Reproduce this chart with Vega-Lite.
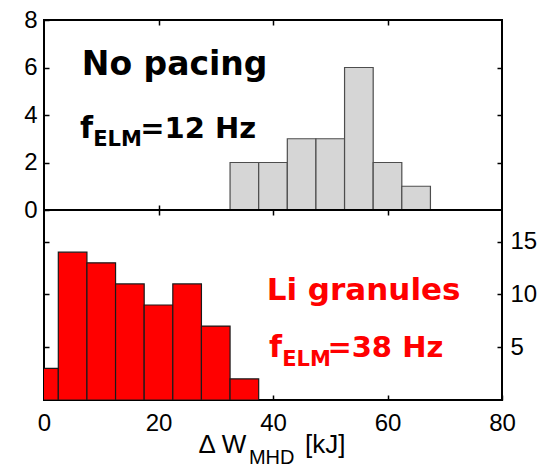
{
  "$schema": "https://vega.github.io/schema/vega-lite/v6.json",
  "background": "white",
  "padding": {"left": 22, "top": 7, "right": 0, "bottom": 0},
  "bounds": "flush",
  "spacing": 0,
  "config": {
    "view": {"stroke": "black", "strokeWidth": 2},
    "axis": {
      "grid": false,
      "domain": false,
      "tickColor": "black",
      "tickWidth": 1.5,
      "tickSize": -5,
      "labelFont": "Liberation Sans",
      "labelFontSize": 24,
      "labelColor": "black",
      "labelFlush": false,
      "labelOverlap": false
    },
    "text": {"font": "DejaVu Sans", "fontWeight": "bold", "align": "left", "baseline": "alphabetic"}
  },
  "datasets": {
    "no_pacing": [
      {"lo": 32.5, "hi": 37.5, "count": 2},
      {"lo": 37.5, "hi": 42.5, "count": 2},
      {"lo": 42.5, "hi": 47.5, "count": 3},
      {"lo": 47.5, "hi": 52.5, "count": 3},
      {"lo": 52.5, "hi": 57.5, "count": 6},
      {"lo": 57.5, "hi": 62.5, "count": 2},
      {"lo": 62.5, "hi": 67.5, "count": 1}
    ],
    "li_granules": [
      {"lo": -2.5, "hi": 2.5, "count": 3},
      {"lo": 2.5, "hi": 7.5, "count": 14},
      {"lo": 7.5, "hi": 12.5, "count": 13},
      {"lo": 12.5, "hi": 17.5, "count": 11},
      {"lo": 17.5, "hi": 22.5, "count": 9},
      {"lo": 22.5, "hi": 27.5, "count": 11},
      {"lo": 27.5, "hi": 32.5, "count": 7},
      {"lo": 32.5, "hi": 37.5, "count": 2}
    ],
    "top_title": [{"x": 6.6, "y": 5.68, "label": "No pacing"}],
    "top_freq": [{"x": 6.3, "y": 3.03, "label": "f"}],
    "top_freq_value": [{"x": 16.8, "y": 3.03, "label": "=12 Hz"}],
    "top_sub": [{"x": 8.6, "y": 2.69, "label": "ELM"}],
    "bottom_title": [{"x": 38.9, "y": 9.45, "label": "Li granules"}],
    "bottom_freq": [{"x": 39.3, "y": 4.05, "label": "f"}],
    "bottom_freq_value": [{"x": 49.5, "y": 4.05, "label": "=38 Hz"}],
    "bottom_sub": [{"x": 41.6, "y": 3.2, "label": "ELM"}],
    "x_title": [
      {"x": 27.0, "y": -5.02, "label": "Δ W"},
      {"x": 45.6, "y": -5.02, "label": "[kJ]"}
    ],
    "x_title_sub": [{"x": 35.8, "y": -6.1, "label": "MHD"}]
  },
  "vconcat": [
    {
      "width": 458,
      "height": 190,
      "resolve": {"axis": {"x": "independent", "y": "independent"}},
      "layer": [
        {
          "data": {"name": "no_pacing"},
          "mark": {"type": "rect", "fill": "#d6d6d6", "stroke": "#4d4d4d", "strokeWidth": 1.2, "clip": true},
          "encoding": {
            "x": {"field": "lo", "type": "quantitative", "scale": {"domain": [0, 80], "nice": false},
                  "axis": {"orient": "bottom", "values": [20, 40, 60], "labels": false, "title": null}},
            "x2": {"field": "hi"},
            "y": {"field": "count", "type": "quantitative", "scale": {"domain": [0, 8], "nice": false, "zero": true},
                  "axis": {"orient": "left", "values": [0, 2, 4, 6, 8], "labelPadding": 12, "title": null}}
          }
        },
        {
          "data": {"name": "top_title"},
          "mark": {"type": "text", "fontSize": 33, "color": "black"},
          "encoding": {
            "x": {"field": "x", "type": "quantitative", "scale": {"domain": [0, 80], "nice": false},
                  "axis": {"orient": "top", "values": [20, 40, 60], "labels": false, "title": null}},
            "y": {"field": "y", "type": "quantitative", "scale": {"domain": [0, 8], "nice": false},
                  "axis": {"orient": "right", "values": [2, 4, 6], "labels": false, "title": null}},
            "text": {"field": "label"}
          }
        },
        {
          "data": {"name": "top_freq"},
          "mark": {"type": "text", "fontSize": 30, "color": "black"},
          "encoding": {
            "x": {"field": "x", "type": "quantitative", "scale": {"domain": [0, 80], "nice": false}, "axis": null},
            "y": {"field": "y", "type": "quantitative", "scale": {"domain": [0, 8], "nice": false}, "axis": null},
            "text": {"field": "label"}
          }
        },
        {
          "data": {"name": "top_freq_value"},
          "mark": {"type": "text", "fontSize": 29, "color": "black"},
          "encoding": {
            "x": {"field": "x", "type": "quantitative", "scale": {"domain": [0, 80], "nice": false}, "axis": null},
            "y": {"field": "y", "type": "quantitative", "scale": {"domain": [0, 8], "nice": false}, "axis": null},
            "text": {"field": "label"}
          }
        },
        {
          "data": {"name": "top_sub"},
          "mark": {"type": "text", "fontSize": 21, "color": "black"},
          "encoding": {
            "x": {"field": "x", "type": "quantitative", "scale": {"domain": [0, 80], "nice": false}, "axis": null},
            "y": {"field": "y", "type": "quantitative", "scale": {"domain": [0, 8], "nice": false}, "axis": null},
            "text": {"field": "label"}
          }
        }
      ]
    },
    {
      "width": 458,
      "height": 190,
      "resolve": {"axis": {"x": "independent", "y": "independent"}},
      "layer": [
        {
          "data": {"name": "li_granules"},
          "mark": {"type": "rect", "fill": "#ff0000", "stroke": "#1a1a1a", "strokeWidth": 1.2, "clip": true},
          "encoding": {
            "x": {"field": "lo", "type": "quantitative", "scale": {"domain": [0, 80], "nice": false},
                  "axis": {"orient": "bottom", "values": [0, 20, 40, 60, 80], "labelPadding": 16, "title": null}},
            "x2": {"field": "hi"},
            "y": {"field": "count", "type": "quantitative", "scale": {"domain": [0, 18], "nice": false},
                  "axis": {"orient": "left", "values": [5, 10, 15], "labels": false, "title": null}}
          }
        },
        {
          "data": {"name": "bottom_title"},
          "mark": {"type": "text", "fontSize": 31, "color": "#ff0000"},
          "encoding": {
            "x": {"field": "x", "type": "quantitative", "scale": {"domain": [0, 80], "nice": false},
                  "axis": {"orient": "top", "values": [20, 40, 60], "labels": false, "title": null}},
            "y": {"field": "y", "type": "quantitative", "scale": {"domain": [0, 18], "nice": false},
                  "axis": {"orient": "right", "values": [5, 10, 15], "labelPadding": 13, "title": null}},
            "text": {"field": "label"}
          }
        },
        {
          "data": {"name": "bottom_freq"},
          "mark": {"type": "text", "fontSize": 30, "color": "#ff0000"},
          "encoding": {
            "x": {"field": "x", "type": "quantitative", "scale": {"domain": [0, 80], "nice": false}, "axis": null},
            "y": {"field": "y", "type": "quantitative", "scale": {"domain": [0, 18], "nice": false}, "axis": null},
            "text": {"field": "label"}
          }
        },
        {
          "data": {"name": "bottom_freq_value"},
          "mark": {"type": "text", "fontSize": 29, "color": "#ff0000"},
          "encoding": {
            "x": {"field": "x", "type": "quantitative", "scale": {"domain": [0, 80], "nice": false}, "axis": null},
            "y": {"field": "y", "type": "quantitative", "scale": {"domain": [0, 18], "nice": false}, "axis": null},
            "text": {"field": "label"}
          }
        },
        {
          "data": {"name": "bottom_sub"},
          "mark": {"type": "text", "fontSize": 21, "color": "#ff0000"},
          "encoding": {
            "x": {"field": "x", "type": "quantitative", "scale": {"domain": [0, 80], "nice": false}, "axis": null},
            "y": {"field": "y", "type": "quantitative", "scale": {"domain": [0, 18], "nice": false}, "axis": null},
            "text": {"field": "label"}
          }
        },
        {
          "data": {"name": "x_title"},
          "mark": {"type": "text", "font": "Liberation Sans", "fontWeight": "normal", "fontSize": 26, "color": "black"},
          "encoding": {
            "x": {"field": "x", "type": "quantitative", "scale": {"domain": [0, 80], "nice": false}, "axis": null},
            "y": {"field": "y", "type": "quantitative", "scale": {"domain": [0, 18], "nice": false}, "axis": null},
            "text": {"field": "label"}
          }
        },
        {
          "data": {"name": "x_title_sub"},
          "mark": {"type": "text", "font": "Liberation Sans", "fontWeight": "normal", "fontSize": 20, "color": "black"},
          "encoding": {
            "x": {"field": "x", "type": "quantitative", "scale": {"domain": [0, 80], "nice": false}, "axis": null},
            "y": {"field": "y", "type": "quantitative", "scale": {"domain": [0, 18], "nice": false}, "axis": null},
            "text": {"field": "label"}
          }
        }
      ]
    }
  ]
}
